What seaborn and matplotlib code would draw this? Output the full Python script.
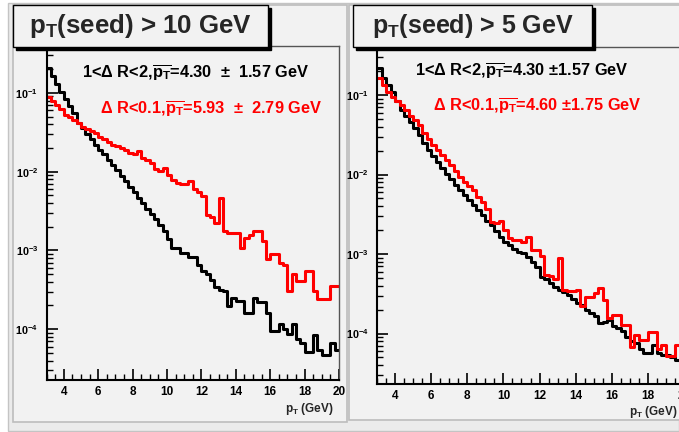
#Distribuicao de pT das particulas associadas ao seed (2 cortes de pT do seed)
#comparando 1<dR<2 (preto) com dR<0.1 (vermelho), eixo y log

import numpy as np
import pandas as pd
import matplotlib
matplotlib.use('Agg')
import matplotlib.pyplot as plt
import seaborn as sns
from matplotlib.patches import Rectangle
from matplotlib.ticker import FixedLocator, FuncFormatter, LogLocator, MultipleLocator, NullFormatter

# -->> bins de 0.25 GeV entre 3 e 20 GeV
pt_edges = np.linspace(3, 20, 69)
pt_lo = pt_edges[:-1]

# -->> pT(seed) > 10 GeV
far_10 = [0.204, 0.162, 0.129, 0.102, 0.0832, 0.0676, 0.0550, 0.0417,
          0.0355, 0.0302, 0.0257, 0.0219, 0.0191, 0.0166, 0.0141, 0.0123,
          0.0105, 0.00891, 0.00759, 0.00631, 0.00550, 0.00468, 0.00398, 0.00339,
          0.00288, 0.00251, 0.00209, 0.00174, 0.00141, 0.00107, 0.00107, 0.000933,
          0.000933, 0.000813, 0.000813, 0.000661, 0.000550, 0.000501, 0.000427, 0.000339,
          0.000316, 0.000302, 0.000195, 0.000251, 0.000229, 0.000229, 0.000162, 0.000162,
          0.000251, 0.000219, 0.000219, 0.000162, 9.55e-5, 9.55e-5, 0.000115, 0.0001,
          8.71e-5, 0.000115, 7.41e-5, 6.61e-5, 5.13e-5, 5.13e-5, 8.32e-5, 5.37e-5,
          4.68e-5, 4.68e-5, 6.76e-5, 5.37e-5]
near_10 = [0.0891, 0.0794, 0.0708, 0.0631, 0.0525, 0.0501, 0.0457, 0.0417,
           0.0372, 0.0347, 0.0324, 0.0309, 0.0275, 0.0257, 0.0240, 0.0219,
           0.0214, 0.0200, 0.0191, 0.0174, 0.0166, 0.0182, 0.0151, 0.0141,
           0.0129, 0.0107, 0.0102, 0.0112, 0.00912, 0.00794, 0.00724, 0.00692,
           0.00692, 0.00759, 0.00603, 0.00550, 0.00490, 0.00282, 0.00263, 0.00224,
           0.00468, 0.00174, 0.00166, 0.00166, 0.00166, 0.00107, 0.00145, 0.00158,
           0.00174, 0.00174, 0.00132, 0.000776, 0.000891, 0.000891, 0.000692, 0.000661,
           0.000302, 0.000501, 0.000407, 0.000407, 0.000550, 0.000550, 0.000302, 0.000240,
           0.000240, 0.000240, 0.000355, 0.000355]

# -->> pT(seed) > 5 GeV
far_5 = [0.219, 0.162, 0.132, 0.110, 0.0832, 0.0646, 0.0537, 0.0457,
         0.0380, 0.0316, 0.0251, 0.0204, 0.0170, 0.0145, 0.0120, 0.0102,
         0.00871, 0.00741, 0.00631, 0.00550, 0.00479, 0.00417, 0.00355, 0.00309,
         0.00263, 0.00229, 0.00195, 0.00166, 0.00141, 0.00129, 0.00117, 0.00107,
         0.00102, 0.000912, 0.000794, 0.000692, 0.000513, 0.000490, 0.000437, 0.000380,
         0.000355, 0.000331, 0.000302, 0.000269, 0.000240, 0.000229, 0.000200, 0.000182,
         0.000166, 0.000135, 0.000141, 0.000148, 0.000123, 0.000117, 0.000107, 9.12e-5,
         7.94e-5, 7.59e-5, 6.31e-5, 5.62e-5, 5.62e-5, 7.24e-5, 5.62e-5, 5.37e-5,
         5.37e-5, 5.01e-5, 4.68e-5, 4.68e-5]
near_5 = [0.162, 0.135, 0.110, 0.0955, 0.0832, 0.0741, 0.0646, 0.0550,
          0.0479, 0.0417, 0.0331, 0.0282, 0.0234, 0.0204, 0.0174, 0.0151,
          0.0132, 0.0110, 0.00933, 0.00813, 0.00708, 0.00631, 0.00525, 0.00457,
          0.00372, 0.00251, 0.00245, 0.00263, 0.00200, 0.00158, 0.00151, 0.00148,
          0.00141, 0.00166, 0.00112, 0.00112, 0.000933, 0.000550, 0.000525, 0.000490,
          0.000891, 0.000355, 0.000339, 0.000339, 0.000355, 0.000219, 0.000288, 0.000288,
          0.000324, 0.000372, 0.000263, 0.000155, 0.000170, 0.000170, 0.000129, 0.000129,
          6.76e-5, 9.55e-5, 8.32e-5, 8.32e-5, 0.000105, 0.000105, 6.46e-5, 7.08e-5,
          5.25e-5, 5.25e-5, 7.08e-5, 7.08e-5]

titles = ['p$_{T}$(seed) > 10 GeV', 'p$_{T}$(seed) > 5 GeV']
far_labels = [r'1<$\Delta$ R<2,$\overline{p_{T}}$=4.30  $\pm$  1.57 GeV',
              r'1<$\Delta$ R<2,$\overline{p_{T}}$=4.30 $\pm$1.57 GeV']
near_labels = [r'$\Delta$ R<0.1,$\overline{p_{T}}$=5.93  $\pm$  2.79 GeV',
               r'$\Delta$ R<0.1,$\overline{p_{T}}$=4.60 $\pm$1.75 GeV']
x_ticks = [4, 6, 8, 10, 12, 14, 16, 18, 20]
y_ticks = [1e-4, 1e-3, 1e-2, 1e-1]
x_label = 'p$_{T}$ (GeV)'

sns.set_style('ticks')
plt.rcParams['font.family'] = ['Liberation Sans', 'DejaVu Sans']
plt.rcParams['font.weight'] = 'bold'
plt.rcParams['mathtext.fontset'] = 'custom'
plt.rcParams['mathtext.rm'] = 'Liberation Sans:bold'
plt.rcParams['mathtext.it'] = 'Liberation Sans:bold'
plt.rcParams['mathtext.bf'] = 'Liberation Sans:bold'
plt.rcParams['mathtext.default'] = 'rm'

W, H = 679, 432
fig = plt.figure(figsize=(W / 100, H / 100), dpi=100, facecolor='white')


def box(x0, y0, x1, y1):
    # pixel (topo-esquerda) -> fracao da figura
    return (x0 / W, 1 - y1 / H), (x1 - x0) / W, (y1 - y0) / H


# fundo do canvas + pads (estilo ROOT)
xy, w, h = box(8, 3, 679, 431)
fig.add_artist(Rectangle(xy, w, h, transform=fig.transFigure, fc='#ebebeb', ec='#c4c4c4', lw=1, zorder=-3))
for x0, y0, x1, y1 in [(13, 5, 347, 422), (349, 5, 682, 420)]:
    xy, w, h = box(x0, y0, x1, y1)
    fig.add_artist(Rectangle(xy, w, h, transform=fig.transFigure, fc='#f2f2f2', ec='#bdbdbd', lw=1.2, zorder=-2))

# posicoes dos frames (px): esquerda, topo, direita, base
frames = [(46.5, 46, 339, 380), (377, 47, 684, 384)]
ylims = [(10 ** -4.645, 10 ** -0.405), (10 ** -4.635, 10 ** -0.396)]
title_boxes = [(13, 5, 268, 47), (353, 5, 592, 47)]
title_size = [18.6, 18]
far_xy = [(196, 72), (522, 70)]
near_xy = [(211, 108), (537, 105)]
xlab_xy = [(334, 409), (678, 412)]

for i, (far, near) in enumerate([(far_10, near_10), (far_5, near_5)]):
    l, t, r, b = frames[i]
    xy, w, h = box(l, t, r, b)
    ax = fig.add_axes([xy[0], xy[1], w, h])
    ax.set_facecolor('#f2f2f2')

    df = pd.DataFrame({'pt': pt_lo, 'far': far, 'near': near})
    sns.histplot(data=df, x='pt', weights='far', bins=pt_edges.tolist(), element='step',
                 fill=False, color='black', linewidth=2.2, ax=ax)
    sns.histplot(data=df, x='pt', weights='near', bins=pt_edges.tolist(), element='step',
                 fill=False, color='#ff0000', linewidth=2.2, ax=ax)

    ax.set_yscale('log')
    ax.set_xlim(3, 20)
    ax.set_ylim(*ylims[i])
    ax.set_xlabel('')
    ax.set_ylabel('')

    ax.xaxis.set_major_locator(FixedLocator(x_ticks))
    ax.xaxis.set_minor_locator(MultipleLocator(0.5))
    ax.yaxis.set_major_locator(FixedLocator(y_ticks))
    ax.yaxis.set_minor_locator(LogLocator(base=10, subs=np.arange(2, 10)))
    ax.yaxis.set_minor_formatter(NullFormatter())
    ax.yaxis.set_major_formatter(FuncFormatter(lambda v, p: '$10^{%d}$' % round(np.log10(v))))
    ax.tick_params(which='both', direction='in', top=False, right=False, colors='black')
    ax.tick_params(axis='x', which='major', length=8, width=1.2, labelsize=8.5, pad=4)
    ax.tick_params(axis='y', which='major', length=8, width=1.2, labelsize=7.8, pad=6)
    ax.tick_params(which='minor', length=4, width=1)
    for s in ['left', 'bottom']:
        ax.spines[s].set_linewidth(1.5)
        ax.spines[s].set_color('black')
    for s in ['top', 'right']:
        ax.spines[s].set_linewidth(1)
        ax.spines[s].set_color('#555555')

    # textos das medias
    fig.text(far_xy[i][0] / W, 1 - far_xy[i][1] / H, far_labels[i], color='black',
             fontsize=11.8, ha='center', va='center')
    fig.text(near_xy[i][0] / W, 1 - near_xy[i][1] / H, near_labels[i], color='#ff0000',
             fontsize=11.8, ha='center', va='center')
    fig.text(xlab_xy[i][0] / W, 1 - xlab_xy[i][1] / H, x_label, fontsize=8.5,
             ha='right', va='center')

    # caixa do titulo com sombra
    x0, y0, x1, y1 = title_boxes[i]
    xy, w, h = box(x0 + 3, y0 + 3, x1 + 3, y1 + 3)
    fig.add_artist(Rectangle(xy, w, h, transform=fig.transFigure, fc='black', ec='black', zorder=5))
    xy, w, h = box(x0, y0, x1, y1)
    fig.add_artist(Rectangle(xy, w, h, transform=fig.transFigure, fc='#f2f2f2', ec='black', lw=1, zorder=6))
    fig.text((x0 + x1) / 2 / W, 1 - (y0 + y1) / 2 / H, titles[i], fontsize=title_size[i],
             ha='center', va='center', zorder=7)

fig.savefig('out.png', dpi=100, facecolor=fig.get_facecolor())
